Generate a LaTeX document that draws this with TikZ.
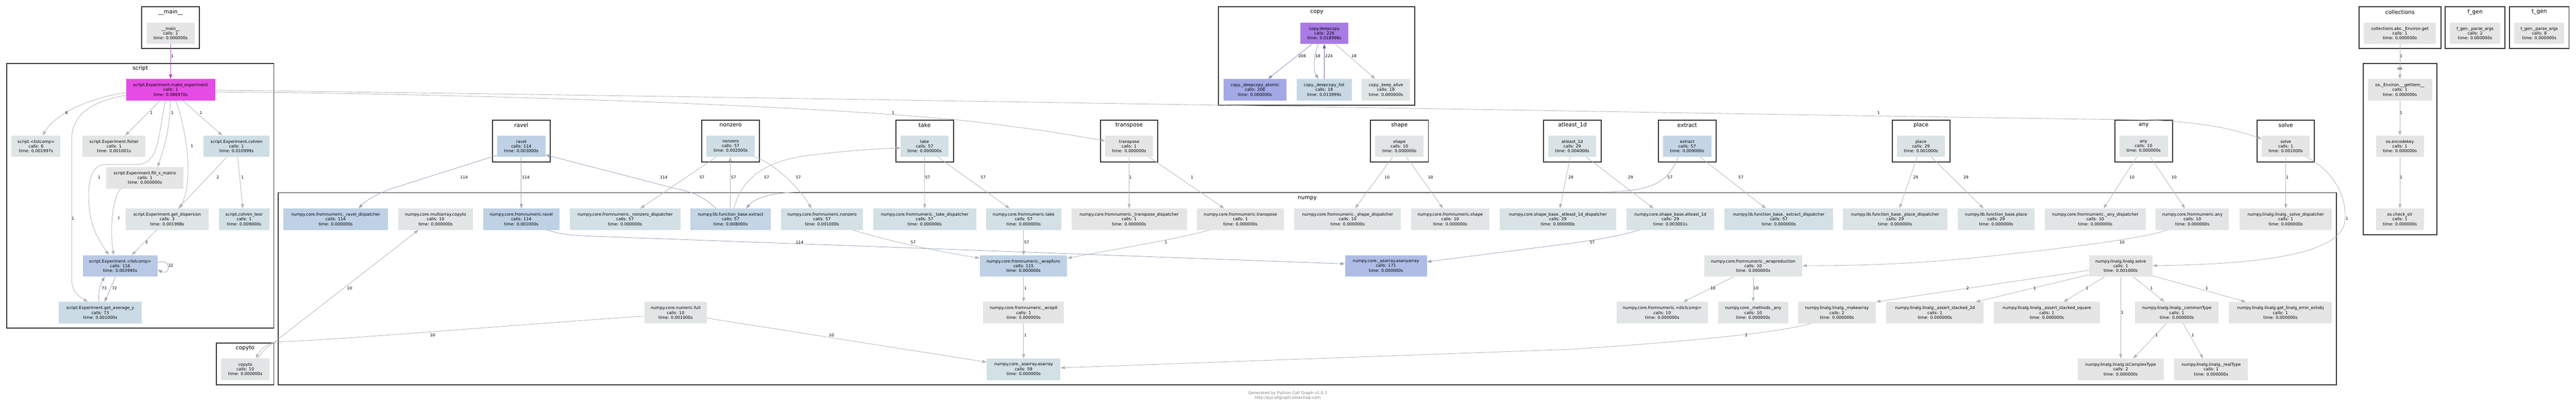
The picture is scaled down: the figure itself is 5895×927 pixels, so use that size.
\documentclass[tikz,border=0pt]{standalone}
\usepackage{fontspec}
\setmainfont{DejaVu Sans}
\usetikzlibrary{arrows.meta}
\newcommand\nf{\fontsize{9.4}{10.8}\selectfont}
\newcommand\lf{\fontsize{9}{10}\selectfont}
\newcommand\cf{\fontsize{12.6}{14}\selectfont}
\newcommand\ff{\fontsize{9.2}{10.6}\selectfont}
\definecolor{g0}{HTML}{E5E5E5}
\definecolor{g0a}{HTML}{E3E5E5}
\definecolor{g1}{HTML}{E1E5E5}
\definecolor{g2}{HTML}{DFE5E5}
\definecolor{g3}{HTML}{D9E3E5}
\definecolor{g4}{HTML}{D3E0E5}
\definecolor{g4b}{HTML}{D1E0E5}
\definecolor{g5}{HTML}{CFDEE5}
\definecolor{g6}{HTML}{DCE3E5}
\definecolor{b1}{HTML}{C4D5E5}
\definecolor{b2}{HTML}{BED1E5}
\definecolor{b3}{HTML}{CADBE5}
\definecolor{b4}{HTML}{B9C9E5}
\definecolor{b5}{HTML}{AFBDE6}
\definecolor{b6}{HTML}{A3A9E6}
\definecolor{b7}{HTML}{C8D9E5}
\definecolor{pm}{HTML}{E54CE5}
\definecolor{pp}{HTML}{A87BE5}
\definecolor{eg}{HTML}{B0B4B7}
\definecolor{eb}{HTML}{97A6B7}
\definecolor{em}{HTML}{BE44BE}
\definecolor{ep}{HTML}{8C8FD0}
\definecolor{ev}{HTML}{7E57C2}
\definecolor{frame}{HTML}{333333}
\newcommand\fnode[6]{\node[fn,fill=#2,minimum width=#3pt] (#1) at (#4,#5) {#6};}
\newcommand\clus[6]{\draw[clu] (#1,#2) rectangle (#3,#4); \node[clab] (#5) at ({(#1+#3)/2},{#2+12}) {#6};}
\newcommand\elab[4]{\node[lbl] (#1) at (#2,#3) {#4};}
\tikzset{
  fn/.style={inner sep=0pt, minimum height=49pt, align=center, font=\nf, text=black},
  clu/.style={draw=frame, line width=2.2pt},
  clab/.style={font=\cf, inner sep=0pt},
  lbl/.style={font=\lf, inner sep=0pt},
  edg/.style={draw=eg, line width=1pt, -{Triangle[length=10pt,width=7pt]}},
  edb/.style={edg, draw=eb}
}
\begin{document}
\begin{tikzpicture}[x=1pt,y=-1pt]
\fill[white] (0,0) rectangle (5895,927);
\useasboundingbox (0,0) rectangle (5895,927);
% clusters
\clus{324.6}{15.4}{456.4}{110.6}{kmain}{\_\_main\_\_}
\clus{2788.8}{15.4}{3238}{240}{kcopy}{copy}
\clus{5398.4}{15.4}{5585.8}{110.6}{kcoll}{collections}
\clus{5595.8}{15.4}{5732.4}{110.6}{kfgen}{f\_gen}
\clus{5743}{15.4}{5879}{110.6}{ktgen}{t\_gen}
\clus{15.4}{144.8}{626.7}{749.6}{kscript}{script}
\draw[clu] (5407.8,144.8) rectangle (5577,536.2);
\node[font=\nf,inner sep=0pt] (kos) at (5492,157) {os};
\clus{1127}{274.3}{1259}{370}{kravel}{ravel}
\clus{1606}{274.3}{1737.8}{370}{knonzero}{nonzero}
\clus{2050}{274.3}{2182}{370}{ktake}{take}
\clus{2518.4}{274.3}{2649.6}{370}{ktransp}{transpose}
\clus{3136.4}{274.3}{3268.8}{370}{kshape}{shape}
\clus{3532.5}{274.3}{3664.5}{370}{katl}{atleast\_1d}
\clus{3795.2}{274.3}{3927}{370}{kextract}{extract}
\clus{4330.2}{274.3}{4462}{370}{kplace}{place}
\clus{4840}{274.3}{4971.3}{370}{kany}{any}
\clus{5165.2}{274.3}{5296.4}{370}{ksolve}{solve}
\draw[clu] (636.7,440.4) rectangle (5346.7,879.1);
\node[clab] (knumpy) at (2991.6,452.9) {numpy};
\clus{495.4}{784}{626.7}{879.1}{kcopyto}{copyto}
% nodes
\fnode{main}{g0}{110}{390.5}{76}{\_\_main\_\_\\calls: 1\\time: 0.000000s}
\fnode{mk}{pm}{204}{390.5}{205}{script.Experiment.make\_experiment\\calls: 1\\time: 0.086970s}
\fnode{lcs}{g2}{112}{82.5}{334.3}{script.<listcomp>\\calls: 6\\time: 0.001997s}
\fnode{fisher}{g0a}{144}{261}{334.3}{script.Experiment.fisher\\calls: 1\\time: 0.001001s}
\fnode{cohren}{g5}{150}{541.2}{334.3}{script.Experiment.cohren\\calls: 1\\time: 0.010999s}
\fnode{fillx}{g0}{177}{331.7}{406.5}{script.Experiment.fill\_x\_matrix\\calls: 1\\time: 0.000000s}
\fnode{disp}{g2}{189}{382.6}{501}{script.Experiment.get\_dispersion\\calls: 3\\time: 0.001998s}
\fnode{cteor}{g4b}{116}{558.7}{501}{script.cohren\_teor\\calls: 1\\time: 0.009000s}
\fnode{elc}{b4}{171}{275}{607.8}{script.Experiment.<listcomp>\\calls: 116\\time: 0.003995s}
\fnode{avgy}{b3}{189}{229.4}{714.5}{script.Experiment.get\_average\_y\\calls: 73\\time: 0.001000s}
\fnode{copyto}{g1}{110}{561.3}{844}{copyto\\calls: 10\\time: 0.000000s}
\fnode{ravdisp}{b2}{240}{768}{501}{numpy.core.fromnumeric.\_ravel\_dispatcher\\calls: 114\\time: 0.000000s}
\fnode{macopy}{g1}{172}{996.8}{501}{numpy.core.multiarray.copyto\\calls: 10\\time: 0.000000s}
\fnode{fnravel}{b2}{174}{1193}{501}{numpy.core.fromnumeric.ravel\\calls: 114\\time: 0.001000s}
\fnode{ravel}{b2}{110.5}{1193}{334.3}{ravel\\calls: 114\\time: 0.003000s}
\fnode{nzdisp}{g4}{253}{1430.4}{501}{numpy.core.fromnumeric.\_nonzero\_dispatcher\\calls: 57\\time: 0.000000s}
\fnode{fbextract}{b1}{184}{1671.9}{501}{numpy.lib.function\_base.extract\\calls: 57\\time: 0.008000s}
\fnode{nonzero}{g5}{110.6}{1672}{334.3}{nonzero\\calls: 57\\time: 0.002000s}
\fnode{full}{g1}{143}{1546}{714.5}{numpy.core.numeric.full\\calls: 10\\time: 0.001000s}
\fnode{fnnonzero}{g4}{188}{1881}{501}{numpy.core.fromnumeric.nonzero\\calls: 57\\time: 0.001000s}
\fnode{takedisp}{g4}{236}{2116}{501}{numpy.core.fromnumeric.\_take\_dispatcher\\calls: 57\\time: 0.000000s}
\fnode{take}{g4}{110}{2115.8}{334.3}{take\\calls: 57\\time: 0.000000s}
\fnode{fntake}{g4}{172}{2342.5}{501}{numpy.core.fromnumeric.take\\calls: 57\\time: 0.000000s}
\fnode{transpose}{g0}{110}{2584}{334.3}{transpose\\calls: 1\\time: 0.000000s}
\fnode{trdisp}{g0}{264}{2584}{501}{numpy.core.fromnumeric.\_transpose\_dispatcher\\calls: 1\\time: 0.000000s}
\fnode{wrapfunc}{b2}{200}{2342.2}{608}{numpy.core.fromnumeric.\_wrapfunc\\calls: 115\\time: 0.000000s}
\fnode{wrapit}{g0}{185}{2342.5}{714.5}{numpy.core.fromnumeric.\_wrapit\\calls: 1\\time: 0.000000s}
\fnode{asarray}{g4}{168.5}{2342.5}{844}{numpy.core.\_asarray.asarray\\calls: 59\\time: 0.000000s}
\fnode{deepcopy}{pp}{110}{3030.6}{76}{copy.deepcopy\\calls: 226\\time: 0.018998s}
\fnode{dcatomic}{b6}{144}{2872}{205}{copy.\_deepcopy\_atomic\\calls: 208\\time: 0.000000s}
\fnode{dclist}{b7}{126}{3030.2}{205}{copy.\_deepcopy\_list\\calls: 18\\time: 0.013999s}
\fnode{keepalive}{g2}{110.5}{3171.6}{205}{copy.\_keep\_alive\\calls: 18\\time: 0.000000s}
\fnode{fntransp}{g0}{199}{2838.7}{501}{numpy.core.fromnumeric.transpose\\calls: 1\\time: 0.000000s}
\fnode{shdisp}{g1}{244}{3084}{501}{numpy.core.fromnumeric.\_shape\_dispatcher\\calls: 10\\time: 0.000000s}
\fnode{shape}{g1}{110.6}{3202.3}{334.3}{shape\\calls: 10\\time: 0.000000s}
\fnode{fnshape}{g1}{179}{3318.8}{501}{numpy.core.fromnumeric.shape\\calls: 10\\time: 0.000000s}
\fnode{aodisp}{g3}{266}{3565}{501}{numpy.core.shape\_base.\_atleast\_1d\_dispatcher\\calls: 29\\time: 0.000000s}
\fnode{atl}{g3}{110}{3598}{334.3}{atleast\_1d\\calls: 29\\time: 0.004000s}
\fnode{sbatl}{g3}{201}{3822.4}{501}{numpy.core.shape\_base.atleast\_1d\\calls: 29\\time: 0.003001s}
\fnode{asany}{b5}{187.4}{3171.6}{608}{numpy.core.\_asarray.asanyarray\\calls: 171\\time: 0.000000s}
\fnode{extract}{b1}{110.6}{3861}{334.3}{extract\\calls: 57\\time: 0.009000s}
\fnode{exdisp}{g4}{248}{4070.6}{501}{numpy.lib.function\_base.\_extract\_dispatcher\\calls: 57\\time: 0.000000s}
\fnode{pldisp}{g6}{240}{4336.7}{501}{numpy.lib.function\_base.\_place\_dispatcher\\calls: 29\\time: 0.000000s}
\fnode{place}{g6}{110.5}{4396}{334.3}{place\\calls: 29\\time: 0.001000s}
\fnode{fbplace}{g6}{175.6}{4568}{501}{numpy.lib.function\_base.place\\calls: 29\\time: 0.000000s}
\fnode{wrapred}{g1}{224.7}{4012}{608}{numpy.core.fromnumeric.\_wrapreduction\\calls: 10\\time: 0.000000s}
\fnode{dictcomp}{g1}{208.7}{3803.8}{714.5}{numpy.core.fromnumeric.<dictcomp>\\calls: 10\\time: 0.000000s}
\fnode{many}{g1}{160}{4012}{714.5}{numpy.core.\_methods.\_any\\calls: 10\\time: 0.000000s}
\fnode{makearray}{g0a}{178.6}{4203.7}{714.5}{numpy.linalg.linalg.\_makearray\\calls: 2\\time: 0.000000s}
\fnode{astwo}{g0}{222.5}{4427.9}{714.5}{numpy.linalg.linalg.\_assert\_stacked\_2d\\calls: 1\\time: 0.000000s}
\fnode{anydisp}{g1}{231}{4794.8}{501}{numpy.core.fromnumeric.\_any\_dispatcher\\calls: 10\\time: 0.000000s}
\fnode{any}{g1}{110.6}{4905.3}{334.3}{any\\calls: 10\\time: 0.000000s}
\fnode{fnany}{g1}{167.3}{5017}{501}{numpy.core.fromnumeric.any\\calls: 10\\time: 0.000000s}
\fnode{solve}{g0}{110}{5230.8}{334.3}{solve\\calls: 1\\time: 0.001000s}
\fnode{soldisp}{g0}{211.6}{5230.8}{501}{numpy.linalg.linalg.\_solve\_dispatcher\\calls: 1\\time: 0.000000s}
\fnode{lsolve}{g0}{145.5}{4853}{608}{numpy.linalg.linalg.solve\\calls: 1\\time: 0.001000s}
\fnode{assq}{g0}{242.4}{4684}{714.5}{numpy.linalg.linalg.\_assert\_stacked\_square\\calls: 1\\time: 0.000000s}
\fnode{common}{g0}{191.5}{4981.4}{714.5}{numpy.linalg.linalg.\_commonType\\calls: 1\\time: 0.000000s}
\fnode{errext}{g0}{236}{5218.6}{714.5}{numpy.linalg.linalg.get\_linalg\_error\_extobj\\calls: 1\\time: 0.000000s}
\fnode{iscx}{g0}{196.3}{4853}{844}{numpy.linalg.linalg.isComplexType\\calls: 2\\time: 0.000000s}
\fnode{realtype}{g0}{169}{5060}{844}{numpy.linalg.linalg.\_realType\\calls: 1\\time: 0.000000s}
\fnode{colget}{g0}{165}{5492}{76}{collections.abc.\_Environ.get\\calls: 1\\time: 0.000000s}
\fnode{fgen}{g0}{115.3}{5664}{76}{f\_gen.\_parse\_args\\calls: 2\\time: 0.000000s}
\fnode{tgen}{g0}{114.7}{5811}{76}{t\_gen.\_parse\_args\\calls: 8\\time: 0.000000s}
\fnode{getitem}{g0}{147.8}{5492}{205}{os.\_Environ.\_\_getitem\_\_\\calls: 1\\time: 0.000000s}
\fnode{encodekey}{g0}{110}{5492}{334.3}{os.encodekey\\calls: 1\\time: 0.000000s}
\fnode{checkstr}{g0}{110}{5492}{501}{os.check\_str\\calls: 1\\time: 0.000000s}
% edges: script
\draw[edg,draw=em] (main.south) -- (mk.north);
\draw[edg] (mk.west |- 0,211.6) .. controls (215,222) and (130,255) .. (97.5,0 |- lcs.north);
\draw[edg] (366.5,0 |- mk.south) -- (286.7,0 |- fisher.north);
\draw[edg] (390.2,0 |- mk.south) .. controls (388,300) and (375,340) .. (360.6,0 |- fillx.north);
\draw[edg] (402,0 |- mk.south) .. controls (425,290) and (445,410) .. (411,0 |- disp.north);
\draw[edg] (418,0 |- mk.south) -- (508.4,0 |- cohren.north);
\draw[edg] (378.4,0 |- mk.south) .. controls (360,320) and (365,376) .. (310,376) -- (240,376) .. controls (200,378) and (200,440) .. (205,480) .. controls (210,530) and (235,560) .. (248.3,0 |- elc.north);
\draw[edg] (mk.west |- 0,217.6) .. controls (210,232) and (164,260) .. (164,320) -- (164,640) .. controls (164,668) and (185,680) .. (201,0 |- avgy.north);
\draw[edg] (519,0 |- cohren.south) -- (408,0 |- disp.north);
\draw[edg] (544,0 |- cohren.south) -- (555.7,0 |- cteor.north);
\draw[edg] (276,0 |- fillx.south) .. controls (255,455) and (252,530) .. (260,0 |- elc.north);
\draw[edg] (358.3,0 |- disp.south) -- (301.5,0 |- elc.north);
\draw[edb] (elc.east |- 0,600) .. controls (392,588) and (392,630) .. (elc.east |- 0,617);
\draw[edb] (226.4,0 |- avgy.north) .. controls (224,665) and (230,650) .. (239.4,0 |- elc.south);
\draw[edb] (264.3,0 |- elc.south) -- (239.4,0 |- avgy.north);
% long edges from make_experiment
\draw[edg] (mk.east |- 0,210) .. controls (1200,216) and (1900,245) .. (2200,275) .. controls (2380,295) and (2470,312) .. (transpose.west |- 0,322);
\draw[edg] (mk.east |- 0,206) .. controls (2000,225) and (4000,262) .. (4900,274) .. controls (5050,278) and (5120,298) .. (solve.west |- 0,317.5);
% numpy edges
\draw[edb] (ravel.west |- 0,354.7) -- (890,433) .. controls (860,445) and (835,460) .. (820.8,0 |- ravdisp.north);
\draw[edb] (ravel.south) -- (fnravel.north);
\draw[edb] (1638.5,0 |- fbextract.north) .. controls (1610,450) and (1590,440) .. (1550,432) -- (ravel.east |- 0,354);
\draw[edg] (1638.5,0 |- nonzero.south) -- (1465.3,0 |- nzdisp.north);
\draw[edg] (1671,0 |- fbextract.north) -- (1671,0 |- nonzero.south);
\draw[edg] (1679.3,0 |- fbextract.north) .. controls (1700,400) and (1760,367) .. (1850,355) .. controls (1950,343) and (2010,340) .. (take.west |- 0,338.2);
\draw[edg] (nonzero.south east) .. controls (1770,372) and (1830,430) .. (1856.9,0 |- fnnonzero.north);
\draw[edb] (3840.1,0 |- extract.south) .. controls (3815,420) and (3780,439) .. (3650,439) -- (1830,439) .. controls (1760,440) and (1725,455) .. (1707.7,0 |- fbextract.north);
\draw[edg] (take.south) -- (2116,0 |- takedisp.north);
\draw[edg] (2146.5,0 |- take.south) -- (2310.3,0 |- fntake.north);
\draw[edg] (transpose.south) -- (trdisp.north);
\draw[edg] (2629.5,0 |- transpose.south) -- (2801.2,0 |- fntransp.north);
\draw[edg] (1951.4,0 |- fnnonzero.south) .. controls (2050,555) and (2150,575) .. (wrapfunc.west |- 0,590);
\draw[edg] (2342.5,0 |- fntake.south) -- (2342.5,0 |- wrapfunc.north);
\draw[edg] (2767.5,0 |- fntransp.south) .. controls (2700,545) and (2550,570) .. (wrapfunc.east |- 0,590);
\draw[edb] (1252.4,0 |- fnravel.south) .. controls (1285,536) and (1310,538) .. (1360,540) -- (asany.west |- 0,603);
\draw[edg] (2342.5,0 |- wrapfunc.south) -- (2342.5,0 |- wrapit.north);
\draw[edg] (2342.5,0 |- wrapit.south) -- (2342.5,0 |- asarray.north);
\draw[edg] (full.east |- 0,727) -- (asarray.west |- 0,827.7);
\draw[edg] (full.west |- 0,722.4) .. controls (1100,748) and (800,775) .. (640,781) .. controls (610,783) and (595,800) .. (585.3,0 |- copyto.north);
\draw[edg] (591.2,0 |- copyto.north) .. controls (600,800) and (615,792) .. (630,780) -- (957.6,0 |- macopy.south);
\draw[edg] (4144.6,0 |- makearray.south) .. controls (4080,758) and (3900,778) .. (3600,798) -- (asarray.east |- 0,840.7);
\draw[edb] (3751.4,0 |- sbatl.south) .. controls (3720,535) and (3680,545) .. (3580,558) -- (asany.east |- 0,598.3);
\draw[edg] (3890.4,0 |- extract.south) -- (4041.1,0 |- exdisp.north);
\draw[edg] (3186.7,0 |- shape.south) -- (3100.9,0 |- shdisp.north);
\draw[edg] (3218.6,0 |- shape.south) -- (3302,0 |- fnshape.north);
\draw[edg] (3593.4,0 |- atl.south) -- (3569.7,0 |- aodisp.north);
\draw[edg] (3630.3,0 |- atl.south) -- (3784,0 |- sbatl.north);
\draw[edg] (4387,0 |- place.south) -- (4346.8,0 |- pldisp.north);
\draw[edg] (4420,0 |- place.south) -- (4539.1,0 |- fbplace.north);
\draw[edg] (4889.7,0 |- any.south) -- (4814,0 |- anydisp.north);
\draw[edg] (4921,0 |- any.south) -- (5000.2,0 |- fnany.north);
\draw[edg] (solve.south) -- (soldisp.north);
\draw[edg] (5278.1,0 |- solve.south) .. controls (5340,390) and (5372,450) .. (5366,505) .. controls (5358,585) and (5150,604) .. (lsolve.east |- 0,607.2);
\draw[edg] (4958.9,0 |- fnany.south) .. controls (4920,540) and (4800,560) .. (4500,591) .. controls (4330,607) and (4200,607) .. (wrapred.east |- 0,607.2);
\draw[edg] (3967.2,0 |- wrapred.south) -- (3852,0 |- dictcomp.north);
\draw[edg] (4012,0 |- wrapred.south) -- (4012,0 |- many.north);
\draw[edg] (lsolve.west |- 0,617.8) -- (makearray.north east);
\draw[edg] (lsolve.west |- 0,627.8) -- (4521.4,0 |- astwo.north);
\draw[edg] (4815.8,0 |- lsolve.south) -- (4722.4,0 |- assq.north);
\draw[edg] (4853,0 |- lsolve.south) -- (4853,0 |- iscx.north);
\draw[edg] (4882,0 |- lsolve.south) -- (4953,0 |- common.north);
\draw[edg] (lsolve.east |- 0,630.2) -- (5139.2,0 |- errext.north);
\draw[edg] (4957.7,0 |- common.south) -- (4882,0 |- iscx.north);
\draw[edg] (4996.1,0 |- common.south) -- (5041.6,0 |- realtype.north);
% copy
\draw[edg,draw=ep] (3002.2,0 |- deepcopy.south) -- (2901.7,0 |- dcatomic.north);
\draw[edb] (3017,0 |- deepcopy.south) .. controls (3005,130) and (3005,160) .. (3017,0 |- dclist.north);
\draw[edg,draw=ev] (3030.6,0 |- dclist.north) -- (3030.6,0 |- deepcopy.south);
\draw[edg] (3056,0 |- deepcopy.south) -- (3147,0 |- keepalive.north);
% os
\draw[edg] (colget.south) -- (getitem.north);
\draw[edg] (getitem.south) -- (encodekey.north);
\draw[edg] (encodekey.south) -- (checkstr.north);
% edge labels
\elab{l1}{394.3}{127.7}{1}
\elab{l2}{152.5}{257.8}{6}
\elab{l3}{346.4}{257.8}{1}
\elab{l4}{394.3}{257.8}{1}
\elab{l5}{460}{257.8}{1}
\elab{l6}{439.2}{333.4}{1}
\elab{l7}{227}{405.6}{1}
\elab{l8}{167.3}{499.6}{1}
\elab{l9}{498.4}{405.6}{2}
\elab{l10}{555.1}{405.6}{1}
\elab{l11}{271.4}{499.6}{7}
\elab{l12}{335.2}{553.4}{3}
\elab{l13}{390.8}{606.6}{32}
\elab{l14}{238.3}{659.2}{73}
\elab{l15}{261.9}{659.2}{72}
\elab{l16}{2044}{257.8}{1}
\elab{l17}{4299}{257.8}{1}
\elab{l18}{1062}{405.6}{114}
\elab{l19}{1203.4}{405.6}{114}
\elab{l20}{1519}{405.6}{114}
\elab{l21}{1606.6}{405.6}{57}
\elab{l22}{1678.7}{405.6}{57}
\elab{l23}{1754.4}{405.6}{57}
\elab{l24}{1827}{405.6}{57}
\elab{l25}{3821.8}{405.6}{57}
\elab{l26}{2122.9}{405.6}{57}
\elab{l27}{2250}{405.6}{57}
\elab{l28}{2587}{405.6}{1}
\elab{l29}{2727.9}{405.6}{1}
\elab{l30}{2089.8}{553.4}{57}
\elab{l31}{2349.3}{553.4}{57}
\elab{l32}{2668}{553.4}{1}
\elab{l33}{1829.7}{553.4}{114}
\elab{l34}{2346.4}{659.2}{1}
\elab{l35}{2346.4}{766.2}{1}
\elab{l36}{1903}{766.2}{10}
\elab{l37}{990}{766.2}{10}
\elab{l38}{800}{659.2}{10}
\elab{l39}{3996.2}{766.2}{2}
\elab{l40}{3643.8}{553.4}{57}
\elab{l41}{3983.8}{405.6}{57}
\elab{l42}{3174.2}{405.6}{10}
\elab{l43}{3273.6}{405.6}{10}
\elab{l44}{3595}{405.6}{29}
\elab{l45}{3731.3}{405.6}{29}
\elab{l46}{4384}{405.6}{29}
\elab{l47}{4499}{405.6}{29}
\elab{l48}{4879}{405.6}{10}
\elab{l49}{4975.4}{405.6}{10}
\elab{l50}{5234.4}{405.6}{1}
\elab{l51}{5371}{499.6}{1}
\elab{l52}{4856}{553.4}{10}
\elab{l53}{3920}{659.2}{10}
\elab{l54}{4018.6}{659.2}{10}
\elab{l55}{4503}{659.2}{2}
\elab{l56}{4656.2}{659.2}{1}
\elab{l57}{4776.2}{659.2}{1}
\elab{l58}{4856.5}{713.6}{1}
\elab{l59}{4923.4}{659.2}{1}
\elab{l60}{5050}{659.2}{1}
\elab{l61}{4935.2}{766}{1}
\elab{l62}{5018}{766}{1}
\elab{l63}{2979.7}{127.7}{208}
\elab{l64}{3015.8}{127.7}{18}
\elab{l65}{3041.2}{127.7}{224}
\elab{l66}{3098.6}{127.7}{18}
\elab{l67}{5495}{127.7}{1}
\elab{l68}{5495}{257.8}{1}
\elab{l69}{5495}{405.6}{1}
% footer
\node[font=\ff,text=gray,inner sep=0pt,align=center] (foot) at (2947,904) {Generated by Python Call Graph v1.0.1\\http://pycallgraph.slowchop.com};
\end{tikzpicture}
\end{document}
